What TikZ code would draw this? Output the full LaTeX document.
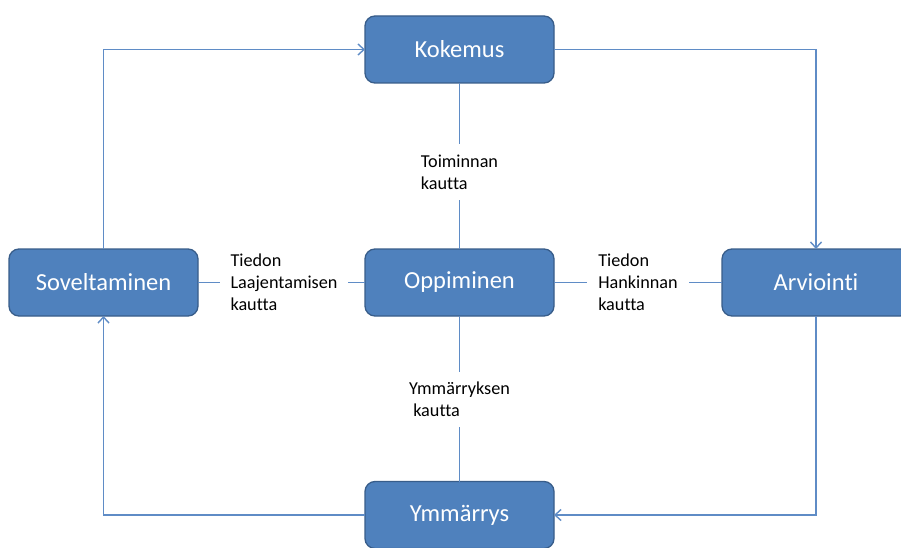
\documentclass[tikz,border=0pt]{standalone}
\usepackage{fontspec}
\setmainfont{Carlito}[Ligatures=NoCommon]
\usetikzlibrary{arrows.meta}
\definecolor{boxfill}{HTML}{4F81BD}
\definecolor{boxline}{HTML}{385D8A}
\definecolor{wire}{HTML}{5F8CC6}
\tikzset{
  stage/.style={draw=boxline, line width=1.3pt, fill=boxfill, rounded corners=10pt,
    minimum width=189pt, minimum height=67pt, inner sep=0pt, outer sep=0pt,
    text=white, font=\fontsize{24.5}{29}\selectfont},
  via/.style={inner sep=0pt, outer sep=0pt, align=left, text=black,
    font=\fontsize{18.2}{22}\selectfont},
  wireline/.style={draw=wire, line width=1.4pt},
  flow/.style={wireline, -{Straight Barb[length=6pt,width=11pt]}}
}
\begin{document}
\begin{tikzpicture}[x=1pt,y=-1pt]
  \useasboundingbox (0,0) rectangle (901,548);
  \clip (0,0) rectangle (901,548);
  \fill[white] (0,0) rectangle (901,548);

  % stages of the cycle
  \node[stage] (kok) at (459.5,49.5) {Kokemus};
  \node[stage] (opp) at (459.5,282.5) {Oppiminen};
  \node[stage] (sov) at (103.5,282.5) {Soveltaminen};
  \node[stage, minimum width=188pt] (arv) at (816,282.5) {Arviointi};
  \node[stage] (ymm) at (459.5,515) {Ymmärrys};

  % ways of learning around the centre
  \node[via, minimum height=56pt] (toim) at (459.5,172) {Toiminnan\\kautta};
  \node[via, minimum height=55pt] (ymmk) at (459.5,399.5) {Ymmärryksen\\\ kautta};
  \node[via, minimum width=128pt] (laaj) at (284,282.5) {Tiedon\\Laajentamisen\\kautta};
  \node[via, minimum width=102pt] (hank) at (638,282.5) {Tiedon\\Hankinnan\\kautta};

  % spokes to the centre
  \draw[wireline] (kok.south) -- (toim.north);
  \draw[wireline] (toim.south) -- (opp.north);
  \draw[wireline] (opp.south) -- (ymmk.north);
  \draw[wireline] (ymmk.south) -- (ymm.north);
  \draw[wireline] (sov.east) -- (laaj.west);
  \draw[wireline] (laaj.east) -- (opp.west);
  \draw[wireline] (opp.east) -- (hank.west);
  \draw[wireline] (hank.east) -- (arv.west);

  % outer cycle
  \draw[flow] (sov.north) |- (kok.west);
  \draw[flow] (kok.east) -| (arv.north);
  \draw[flow] (arv.south) |- (ymm.east);
  \draw[flow] (ymm.west) -| (sov.south);
\end{tikzpicture}
\end{document}
